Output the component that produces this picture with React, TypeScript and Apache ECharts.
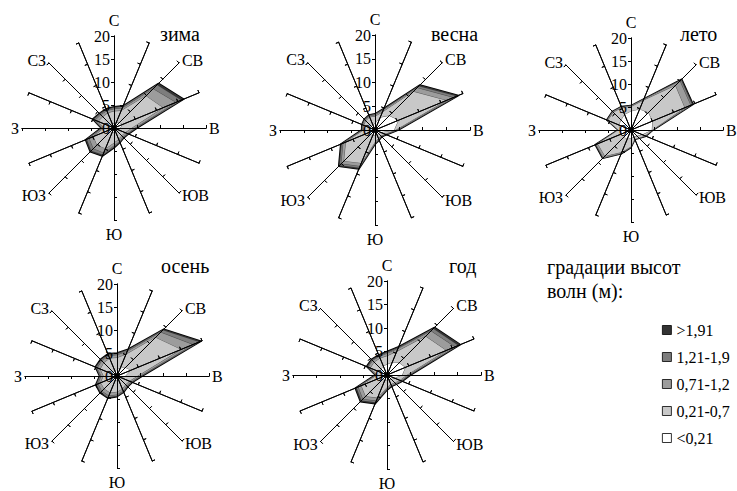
import React, { useEffect, useRef } from 'react';
import * as echarts from 'echarts';

const FONT = 'Liberation Serif';

// 16 rhumbs, listed clockwise from north
const directions = ['С', 'ССВ', 'СВ', 'ВСВ', 'В', 'ВЮВ', 'ЮВ', 'ЮЮВ', 'Ю', 'ЮЮЗ', 'ЮЗ', 'ЗЮЗ', 'З', 'ЗСЗ', 'СЗ', 'ССЗ'];
const shownNames = ['С', '', 'СВ', '', 'В', '', 'ЮВ', '', 'Ю', '', 'ЮЗ', '', 'З', '', 'СЗ', ''];
const nameGaps = [8, 4, 4, 4, 3, 4, 4, 4, 6, 4, 4, 4, 3, 4, 4, 4];

const radiusMax = 20;
const radiusSplits = 4; // ticks 0, 5, 10, 15, 20

const gradations = ['>1,91', '1,21-1,9', '0,71-1,2', '0,21-0,7', '<0,21'];
const gradColors = ['#333333', '#7d7d7d', '#9c9c9c', '#c8c8c8', '#ffffff'];

const seasons = ['зима', 'весна', 'лето', 'осень', 'год'];
const legendTitle = 'градации высот\nволн (м):';

// Cumulative recurrence (%) of wave heights by direction, clockwise from north.
// "All" = every height, "To19" = heights up to 1.9 m, and so on down to calm (<0.21 m).
const winterAll = [4.6, 5.2, 13.7, 16.4, 5.0, 3.4, 3.0, 3.4, 4.3, 6.6, 7.3, 6.7, 2.8, 5.0, 4.5, 4.5];
const winterTo19 = [4.4, 5.0, 13.2, 15.8, 4.8, 3.3, 2.9, 3.3, 4.1, 6.3, 7.0, 6.4, 2.7, 4.8, 4.3, 4.3];
const winterTo12 = [4.1, 4.6, 12.0, 14.5, 4.5, 3.1, 2.7, 3.1, 3.8, 5.8, 6.3, 5.8, 2.5, 4.4, 4.0, 4.0];
const winterTo07 = [3.6, 4.0, 9.8, 11.5, 3.8, 2.6, 2.3, 2.6, 3.2, 4.8, 5.2, 4.8, 2.1, 3.7, 3.4, 3.5];
const winterLt021 = [1.0, 1.2, 1.6, 2.0, 1.3, 0.9, 0.8, 0.8, 0.9, 1.0, 1.0, 1.0, 0.8, 0.9, 0.9, 0.9];

const springAll = [3.4, 4.9, 13.4, 19.0, 4.9, 2.6, 2.0, 2.3, 3.0, 8.9, 10.8, 7.8, 2.8, 3.0, 3.2, 3.4];
const springTo19 = [3.3, 4.7, 13.0, 18.6, 4.8, 2.5, 1.9, 2.2, 2.9, 8.6, 10.5, 7.6, 2.7, 2.9, 3.1, 3.3];
const springTo12 = [3.1, 4.5, 12.5, 17.8, 4.6, 2.4, 1.8, 2.1, 2.8, 8.2, 10.0, 7.2, 2.6, 2.8, 3.0, 3.1];
const springTo07 = [2.8, 4.0, 11.4, 16.2, 4.3, 2.2, 1.7, 1.9, 2.5, 7.5, 9.2, 6.6, 2.3, 2.5, 2.7, 2.9];
const springLt021 = [1.3, 2.8, 4.2, 5.3, 4.0, 1.2, 1.0, 1.0, 1.0, 1.2, 1.3, 1.2, 1.0, 1.0, 1.0, 1.1];

const summerAll = [5.3, 7.3, 15.6, 14.6, 4.8, 3.5, 2.5, 2.2, 3.8, 5.6, 8.7, 8.4, 2.8, 5.7, 5.7, 5.5];
const summerTo19 = [5.25, 7.25, 15.4, 14.4, 4.75, 3.45, 2.5, 2.2, 3.75, 5.55, 8.6, 8.3, 2.8, 5.65, 5.65, 5.45];
const summerTo12 = [5.2, 7.2, 15.0, 14.0, 4.7, 3.4, 2.45, 2.15, 3.7, 5.5, 8.5, 8.2, 2.75, 5.6, 5.6, 5.4];
const summerTo07 = [5.0, 6.9, 13.6, 12.6, 4.6, 3.3, 2.4, 2.1, 3.6, 5.2, 8.0, 7.8, 2.7, 5.4, 5.4, 5.2];
const summerLt021 = [4.0, 4.8, 5.3, 5.0, 4.5, 2.6, 1.8, 1.6, 1.8, 2.0, 2.2, 2.2, 2.2, 2.8, 3.0, 3.6];

const autumnAll = [5.0, 6.3, 14.4, 19.8, 5.5, 3.6, 3.3, 3.8, 4.5, 5.2, 5.2, 5.0, 3.8, 5.1, 5.1, 5.2];
const autumnTo19 = [4.8, 6.1, 14.1, 19.3, 5.3, 3.5, 3.2, 3.7, 4.3, 5.0, 5.0, 4.8, 3.7, 4.9, 4.9, 5.0];
const autumnTo12 = [4.5, 5.7, 13.4, 17.8, 5.0, 3.3, 3.0, 3.5, 4.0, 4.6, 4.6, 4.4, 3.4, 4.6, 4.6, 4.7];
const autumnTo07 = [3.9, 5.0, 11.8, 15.0, 4.4, 2.9, 2.6, 3.0, 3.4, 3.9, 3.9, 3.8, 2.9, 3.9, 4.0, 4.1];
const autumnLt021 = [1.3, 1.8, 2.5, 3.2, 1.8, 1.0, 0.9, 0.9, 1.0, 1.0, 1.0, 1.0, 0.9, 1.0, 1.0, 1.1];

const yearAll = [5.0, 6.5, 14.3, 16.9, 5.0, 3.5, 2.8, 2.6, 3.2, 6.6, 8.0, 7.3, 2.5, 4.7, 4.7, 4.6];
const yearTo19 = [4.8, 6.3, 13.9, 16.4, 4.8, 3.4, 2.7, 2.5, 3.1, 6.3, 7.7, 7.0, 2.4, 4.5, 4.5, 4.4];
const yearTo12 = [4.5, 6.0, 13.2, 15.6, 4.6, 3.2, 2.6, 2.4, 2.9, 5.9, 7.2, 6.6, 2.3, 4.3, 4.3, 4.2];
const yearTo07 = [4.0, 5.3, 11.6, 13.6, 4.2, 2.9, 2.3, 2.1, 2.6, 5.2, 6.4, 5.9, 2.0, 3.8, 3.8, 3.8];
const yearLt021 = [2.2, 2.8, 3.6, 4.2, 3.2, 1.6, 1.2, 1.0, 1.0, 1.2, 1.3, 1.3, 1.2, 1.5, 1.7, 2.0];

// Panel placement (pixels)
const panels = [
  { title: seasons[0], center: [114, 128], radius: 92, titleAt: [160, 24], layers: [winterAll, winterTo19, winterTo12, winterTo07, winterLt021] },
  { title: seasons[1], center: [375, 130], radius: 95, titleAt: [431, 24], layers: [springAll, springTo19, springTo12, springTo07, springLt021] },
  { title: seasons[2], center: [631, 130], radius: 92, titleAt: [680, 24], layers: [summerAll, summerTo19, summerTo12, summerTo07, summerLt021] },
  { title: seasons[3], center: [117, 376], radius: 92, titleAt: [161, 256], layers: [autumnAll, autumnTo19, autumnTo12, autumnTo07, autumnLt021] },
  { title: seasons[4], center: [387, 375], radius: 94, titleAt: [449, 256], layers: [yearAll, yearTo19, yearTo12, yearTo07, yearLt021] },
];

// ECharts places radar indicators counter-clockwise from the top
const ccwOrder = directions.map((_, j) => (directions.length - j) % directions.length);

function buildIndicators(withText: boolean) {
  return ccwOrder.map((k) => {
    const ind: any = {
      name: withText ? shownNames[k] : '',
      min: 0,
      max: radiusMax,
      nameGap: nameGaps[k],
    };
    if (withText && k === 0) ind.axisLabel = { show: true };
    return ind;
  });
}

const tickLine = { color: '#000', width: 1 };

function buildOption() {
  const radar: any[] = [];
  const series: any[] = [];
  panels.forEach((p, i) => {
    // spokes, outer tick halves, direction names and the value labels on the north spoke
    radar.push({
      center: p.center,
      radius: p.radius,
      startAngle: 90,
      splitNumber: radiusSplits,
      shape: 'polygon',
      z: 3,
      indicator: buildIndicators(true),
      axisName: { show: true, color: '#000', fontFamily: FONT, fontSize: 16 },
      axisLine: { show: true, lineStyle: tickLine },
      axisTick: { show: true, length: 3, lineStyle: tickLine },
      axisLabel: { show: false, color: '#000', fontFamily: FONT, fontSize: 16, margin: 4 },
      splitLine: { show: false },
      splitArea: { show: false },
    });
    // inner tick halves so every tick crosses its spoke
    radar.push({
      center: p.center,
      radius: p.radius,
      startAngle: 90,
      splitNumber: radiusSplits,
      shape: 'polygon',
      z: 3,
      indicator: buildIndicators(false),
      axisName: { show: false },
      axisLine: { show: true, lineStyle: tickLine },
      axisTick: { show: true, inside: true, length: 3, lineStyle: tickLine },
      axisLabel: { show: false },
      splitLine: { show: false },
      splitArea: { show: false },
    });
    p.layers.forEach((arr, g) => {
      series.push({
        type: 'radar',
        name: gradations[g],
        radarIndex: 2 * i,
        z: 2,
        symbol: 'none',
        silent: true,
        itemStyle: { color: gradColors[g] },
        lineStyle: { color: g === 0 ? '#000' : '#3a3a3a', width: g === 0 ? 1.6 : 0.7 },
        areaStyle: { color: gradColors[g], opacity: 1 },
        data: [{ name: gradations[g], value: ccwOrder.map((k) => arr[k]) }],
      });
    });
  });

  const titleStyle = { fontFamily: FONT, fontSize: 20, fontWeight: 'normal', color: '#000' };
  const title: any[] = panels.map((p) => ({
    text: p.title,
    left: p.titleAt[0],
    top: p.titleAt[1],
    padding: 0,
    textStyle: titleStyle,
  }));
  title.push({
    text: legendTitle,
    left: 547,
    top: 255,
    padding: 0,
    textStyle: { ...titleStyle, lineHeight: 24 },
  });

  return {
    animation: false,
    backgroundColor: '#fff',
    textStyle: { fontFamily: FONT },
    title,
    legend: {
      data: gradations,
      orient: 'vertical',
      left: 662,
      top: 322,
      padding: 0,
      icon: 'rect',
      itemWidth: 9,
      itemHeight: 9,
      itemGap: 11,
      selectedMode: false,
      itemStyle: { borderColor: '#000', borderWidth: 0.8 },
      textStyle: { fontFamily: FONT, fontSize: 16, color: '#000' },
    },
    radar,
    series,
  };
}

export default function App() {
  const ref = useRef<HTMLDivElement>(null);
  useEffect(() => {
    if (!ref.current) return;
    const chart = echarts.init(ref.current, undefined, { renderer: 'svg' });
    chart.setOption(buildOption() as any);
    return () => chart.dispose();
  }, []);
  return (
    <div
      ref={ref}
      style={{ position: 'absolute', left: 0, top: 0, width: 737, height: 491, background: '#fff' }}
    />
  );
}
